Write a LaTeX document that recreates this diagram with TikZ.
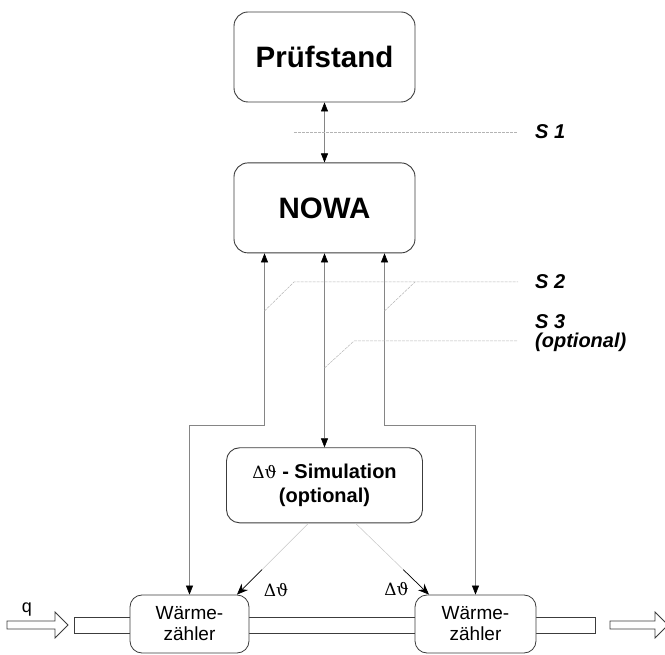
\documentclass[tikz,border=0pt]{standalone}
\usepackage{fontspec}
\setmainfont{Liberation Sans}
\newfontfamily\greekfont{DejaVu Serif}
\usepackage{tikz}
\usetikzlibrary{arrows.meta, positioning, calc}
\definecolor{boxgray}{HTML}{3C3C3C}
\definecolor{linegray}{HTML}{858585}
\definecolor{cutgray}{HTML}{B4B4B4}

\begin{document}
\begin{tikzpicture}[x=1pt, y=1pt,
  unit/.style={draw=boxgray, line width=0.9pt, rounded corners=14pt, fill=white, inner sep=0pt, minimum width=181pt, minimum height=90pt, font=\fontsize{29.5}{32}\selectfont\bfseries},
  simbox/.style={draw=boxgray, line width=0.9pt, rounded corners=13pt, fill=white, inner sep=0pt, align=center, minimum width=196pt, minimum height=75pt, font=\fontsize{20}{24}\selectfont\bfseries},
  meter/.style={draw=boxgray, line width=0.8pt, rounded corners=12pt, fill=white, inner sep=0pt, align=center, minimum height=58pt, font=\fontsize{19}{21}\selectfont},
  pipe/.style={draw=boxgray, line width=0.8pt, inner sep=0pt, minimum width=521pt, minimum height=16pt},
  flow/.style={draw=boxgray, line width=0.8pt, fill=white},
  link/.style={draw=linegray, line width=0.6pt, >={Triangle[length=9pt,width=7pt,color=black]}, <->},
  cut/.style={draw=cutgray, line width=0.5pt, dash pattern=on 3pt off 1pt},
  dtline/.style={draw=gray!45, line width=0.5pt},
  dtarrow/.style={draw=black, line width=0.7pt, -{Stealth[length=11pt,width=9pt]}},
  tag/.style={anchor=base west, inner sep=0pt, align=left, font=\fontsize{20}{19}\selectfont\bfseries\itshape},
  note/.style={inner sep=0pt, font=\fontsize{18}{20}\selectfont},
]
  \useasboundingbox (0,0) rectangle (665,-655);

  \node[unit] (pruef) at (324.5,-57) {Prüfstand};
  \node[unit, below=60pt of pruef] (nowa) {NOWA};
  \node[simbox, below=194pt of nowa] (sim) {{\greekfont\mdseries\fontsize{17}{24}\selectfont Δϑ} - Simulation\\(optional)};

  \node[pipe] (pipe) at (334.5,-625) {};
  \node[meter, minimum width=119pt] (wz1) at (189.5,-624) {Wärme-\\zähler};
  \node[meter, minimum width=121pt] (wz2) at (475.5,-624) {Wärme-\\zähler};

  \draw[flow] (7,-621) -- ++(48,0) -- ++(0,9) -- ++(13,-13) -- ++(-13,-13) -- ++(0,9) -- ++(-48,0) -- cycle;
  \draw[flow] (610,-621) -- ++(45,0) -- ++(0,9) -- ++(13,-13) -- ++(-13,-13) -- ++(0,9) -- ++(-45,0) -- cycle;
  \node[note] (q) at (27,-610) {q};

  \draw[link] (pruef) -- (nowa);
  \draw[link] (nowa) -- (sim);
  \draw[link] ([xshift=-60pt]nowa.south) -- ++(0,-172) -| (wz1.north);
  \draw[link] ([xshift=60pt]nowa.south) -- ++(0,-172) -| (wz2.north);

  \coordinate (a1) at ([xshift=-16pt]sim.south);
  \coordinate (b1) at ([xshift=47.5pt]wz1.north);
  \coordinate (a2) at ([xshift=31pt]sim.south);
  \coordinate (b2) at ([xshift=-46.5pt]wz2.north);
  \draw[dtline] (a1) -- ($(a1)!0.65!(b1)$);
  \draw[dtarrow] ($(a1)!0.65!(b1)$) -- (b1);
  \draw[dtline] (a2) -- ($(a2)!0.65!(b2)$);
  \draw[dtarrow] ($(a2)!0.65!(b2)$) -- (b2);
  \node[note, font=\greekfont\fontsize{17}{20}\selectfont] (dt1) at (276,-590) {Δϑ};
  \node[note, font=\greekfont\fontsize{17}{20}\selectfont] (dt2) at (396.5,-589) {Δϑ};

  \node[tag] (s1) at (535,-139) {S 1};
  \node[tag] (s2) at (535,-289) {S 2};
  \node[tag] (s3) at (535,-348) {S 3\\(optional)};
  \draw[cut] (294,-132) -- (518,-132);
  \draw[cut] (264.5,-311) -- (294,-282) -- (518,-282);
  \draw[cut] (384.5,-311) -- (415,-282);
  \draw[cut] (324.5,-368) -- (354,-341) -- (518,-341);
\end{tikzpicture}
\end{document}
